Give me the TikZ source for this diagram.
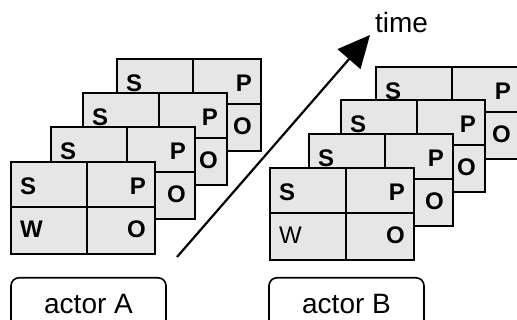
\documentclass[tikz,border=0pt]{standalone}
\usepackage{fontspec}
\setmainfont{Liberation Sans}
\usetikzlibrary{arrows.meta,calc}
\definecolor{cardfill}{RGB}{230,230,230}
\tikzset{
  card/.style={draw, fill=cardfill, line width=1.5pt, minimum width=144pt, minimum height=92pt, anchor=north west, inner sep=0pt, outer sep=0pt},
  divider/.style={line width=1.5pt},
  lbl/.style={font=\fontsize{24}{28}\selectfont\bfseries, inner sep=0pt},
  lblreg/.style={font=\fontsize{24}{28}\selectfont, inner sep=0pt},
  actorbox/.style={draw, rounded corners=8pt, line width=1.6pt, minimum width=155pt, minimum height=52pt, anchor=north, font=\fontsize{28}{32}\selectfont, inner sep=0pt},
  timearrow/.style={line width=2.2pt, -{Triangle[length=32pt,width=30pt]}},
}
% back card: name, x, y
\newcommand\backcard[3]{%
  \node[card] (#1) at (#2,#3) {};
  \draw[divider] ($(#1.north west)+(76,0)$) -- ($(#1.south west)+(76,0)$);
  \draw[divider] ($(#1.north west)+(0,45)$) -- ($(#1.north east)+(0,45)$);
  \node[lbl, anchor=west] (#1S) at ($(#1.north west)+(9,24.5)$) {S};
  \node[lbl, anchor=east] (#1P) at ($(#1.north east)+(-9,24.5)$) {P};
  \node[lbl, anchor=east] (#1O) at ($(#1.north east)+(-9,67.5)$) {O};
}
% front card: name, x, y, style of W
\newcommand\frontcard[4]{%
  \backcard{#1}{#2}{#3}
  \node[#4, anchor=west] (#1W) at ($(#1.north west)+(9,67.5)$) {W};
}
\begin{document}
\begin{tikzpicture}[x=1pt, y=-1pt]
  \useasboundingbox (0,0) rectangle (517,320);
  % actor A stack
  \backcard{aD}{117}{59}
  \backcard{aC}{83}{93}
  \backcard{aB}{51}{127}
  \frontcard{aA}{11}{162}{lbl}
  % actor B stack
  \backcard{bD}{376}{67}
  \backcard{bC}{341}{100}
  \backcard{bB}{309}{134}
  \frontcard{bA}{270}{168}{lblreg}
  % time arrow
  \coordinate (tstart) at (177,257);
  \coordinate (tend) at (370,35);
  \draw[timearrow] (tstart) -- (tend);
  \node[anchor=base, inner sep=0pt, font=\fontsize{28}{32}\selectfont] (time) at (401.5,33) {time};
  % actor labels
  \node[actorbox] (actA) at (88.5,277) {actor A};
  \node[actorbox] (actB) at (346.5,277) {actor B};
\end{tikzpicture}
\end{document}
